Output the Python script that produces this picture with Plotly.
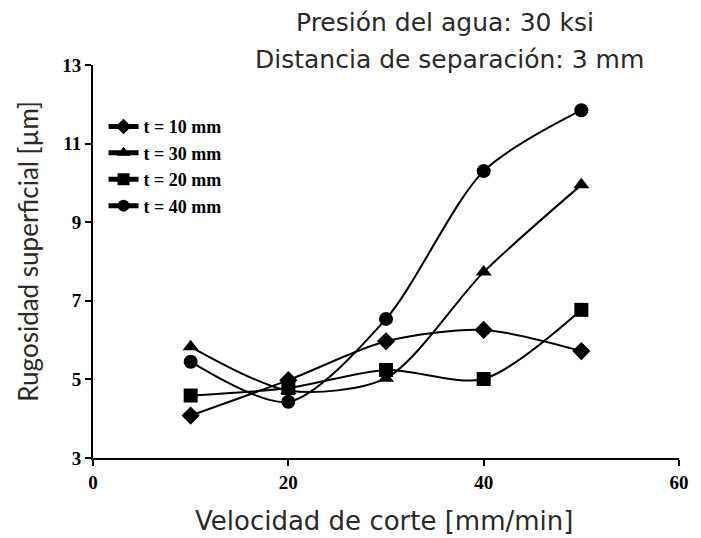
import plotly.graph_objects as go

x_vals = [10, 20, 30, 40, 50]
series_names = ["t = 10 mm", "t = 30 mm", "t = 20 mm", "t = 40 mm"]
t10 = [4.08, 4.98, 5.97, 6.26, 5.72]
t30 = [5.83, 4.72, 5.03, 7.73, 9.95]
t20 = [4.59, 4.78, 5.24, 5.01, 6.77]
t40 = [5.45, 4.43, 6.54, 10.30, 11.85]
symbols = ["diamond", "triangle-up", "square", "circle"]

fig = go.Figure()
for name, ys, sym in zip(series_names, [t10, t30, t20, t40], symbols):
    fig.add_trace(go.Scatter(
        x=x_vals, y=ys, name=name, mode="lines+markers",
        line=dict(color="black", width=2, shape="spline", smoothing=0.8),
        marker=dict(symbol=sym, size=14, color="black"),
    ))

TITLE_FONT = "DejaVu Sans"
TXT = "#2a2a2a"
fig.update_layout(
    width=701, height=538,
    margin=dict(l=93, r=16, t=65, b=80),
    paper_bgcolor="white", plot_bgcolor="white",
    showlegend=True,
    legend=dict(x=0.018, y=0.89, xanchor="left", yanchor="top",
                font=dict(family="Liberation Serif", size=18, color="black", weight="bold"),
                bgcolor="rgba(0,0,0,0)", tracegroupgap=0, itemsizing="constant"),
    xaxis=dict(range=[0, 60], tickvals=[0, 20, 40, 60], showgrid=False, zeroline=False,
               showline=True, linecolor="black", linewidth=2,
               ticks="outside", ticklen=6, tickwidth=2, tickcolor="black",
               tickfont=dict(family="Liberation Serif", size=19, color="black", weight="bold")),
    yaxis=dict(range=[3, 13], tickvals=[3, 5, 7, 9, 11, 13], showgrid=False, zeroline=False,
               showline=True, linecolor="black", linewidth=2,
               ticks="outside", ticklen=6, tickwidth=2, tickcolor="black",
               tickfont=dict(family="Liberation Serif", size=19, color="black", weight="bold")),
)
plot_w = 701 - 93 - 16
plot_h = 538 - 65 - 80
def px_to_paper(px, py):
    return (px - 93) / plot_w, (538 - 80 - py) / plot_h
ann = []
for text, (px, py), fam, size, ang in [
        ("Presión del agua: 30 ksi", (449, 22), TITLE_FONT, 25, 0),
        ("Distancia de separación: 3 mm", (453, 60), TITLE_FONT, 25, 0),
        ("Velocidad de corte [mm/min]", (387, 521), TITLE_FONT, 26, 0),
        ("Rugosidad superficial [µm]", (27, 251), "Lato", 26, -90)]:
    xp, yp = px_to_paper(px, py)
    ann.append(dict(text=text, x=xp, y=yp, xref="paper", yref="paper", showarrow=False,
                    xanchor="center", yanchor="middle", textangle=ang,
                    font=dict(family=fam, size=size, color=TXT)))
fig.update_layout(annotations=ann)

fig.write_html("out.html")
